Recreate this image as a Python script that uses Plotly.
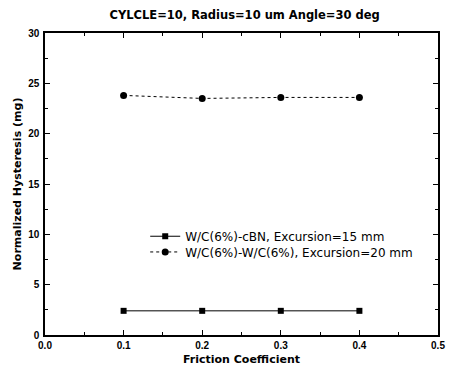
import plotly.graph_objects as go

friction = [0.1, 0.2, 0.3, 0.4]
cbn_hyst = [2.4, 2.4, 2.4, 2.4]
wc_hyst = [23.8, 23.5, 23.6, 23.6]

series_names = [
    "W/C(6%)-cBN, Excursion=15 mm",
    "W/C(6%)-W/C(6%), Excursion=20 mm",
]

tick_font = "Liberation Sans, Arial, sans-serif"
label_font = "DejaVu Sans, sans-serif"

fig = go.Figure()
fig.add_trace(go.Scatter(
    x=friction, y=cbn_hyst, name=series_names[0], mode="lines+markers",
    line=dict(color="black", width=1),
    marker=dict(symbol="square", size=6, color="black"),
    legend="legend",
))
fig.add_trace(go.Scatter(
    x=friction, y=wc_hyst, name=series_names[1], mode="lines+markers",
    line=dict(color="black", width=1, dash="dot"),
    marker=dict(symbol="circle", size=7, color="black"),
    legend="legend2",
))

axis_common = dict(
    showline=True, linecolor="black", linewidth=1.5, mirror="ticks",
    ticks="inside", ticklen=5, tickwidth=1.2, tickcolor="black",
    showgrid=False, zeroline=False,
    tickfont=dict(family=tick_font, size=10, color="black"),
    tickprefix="<b>", ticksuffix="</b>",
)

fig.update_xaxes(
    range=[0, 0.5], dtick=0.1, tickformat=".1f", ticklabelstandoff=0,
    minor=dict(ticks="inside", ticklen=3, tickcolor="black", tickwidth=1, dtick=0.05),
    title=dict(text="<b>Friction Coefficient</b>",
               font=dict(family=label_font, size=11, color="black"), standoff=6),
    **axis_common,
)
fig.update_yaxes(
    range=[0, 30], dtick=5, ticklabelstandoff=2,
    minor=dict(ticks="inside", ticklen=3, tickcolor="black", tickwidth=1, dtick=2.5),
    title=dict(text="<b>Normalized Hysteresis (mg)</b>",
               font=dict(family=label_font, size=11, color="black"), standoff=4),
    **axis_common,
)

legend_common = dict(
    xanchor="left", yanchor="middle", bgcolor="rgba(0,0,0,0)",
    font=dict(family=label_font, size=12, color="black"), itemwidth=30,
)

fig.update_layout(
    width=453, height=379,
    margin=dict(l=45, r=8, t=33, b=44),
    paper_bgcolor="white", plot_bgcolor="white",
    title=dict(text="<b>CYLCLE=10, Radius=10 um Angle=30 deg</b>",
               x=0.54, xanchor="center", y=0.96, yanchor="middle",
               font=dict(family=label_font, size=11.5, color="black")),
    legend=dict(x=0.255, y=0.327, **legend_common),
    legend2=dict(x=0.255, y=0.275, **legend_common),
    showlegend=True,
)

fig.write_html("out.html")
